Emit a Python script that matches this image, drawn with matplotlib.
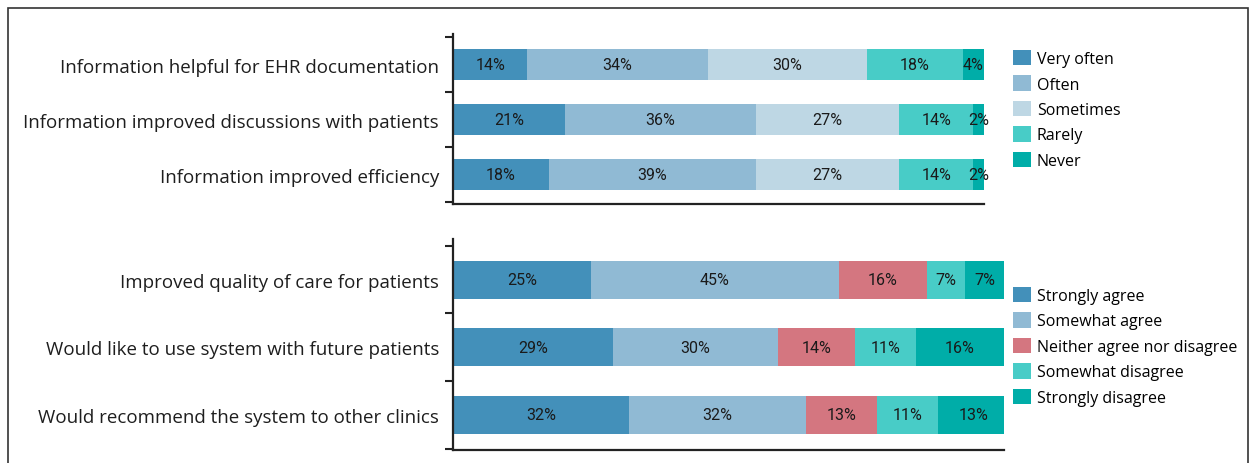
import numpy as np
import matplotlib
matplotlib.use("Agg")
import matplotlib.pyplot as plt
from matplotlib.patches import Rectangle

# --- data ---
freq_items = ["Information helpful for EHR documentation",
              "Information improved discussions with patients",
              "Information improved efficiency"]
freq_levels = ["Very often", "Often", "Sometimes", "Rarely", "Never"]
freq_values = [[14, 34, 30, 18, 4],
               [21, 36, 27, 14, 2],
               [18, 39, 27, 14, 2]]

agree_items = ["Improved quality of care for patients",
               "Would like to use system with future patients",
               "Would recommend the system to other clinics"]
agree_levels = ["Strongly agree", "Somewhat agree", "Neither agree nor disagree",
                "Somewhat disagree", "Strongly disagree"]
agree_values = [[25, 45, 16, 7, 7],
                [29, 30, 14, 11, 16],
                [32, 32, 13, 11, 13]]

freq_colors = ["#4390ba", "#90bad4", "#bed7e4", "#48ccc7", "#00ada8"]
agree_colors = ["#4390ba", "#90bad4", "#d47680", "#48ccc7", "#00ada8"]

plt.rcParams["font.family"] = ["Open Sans", "DejaVu Sans"]

W, H = 1254, 464
fig = plt.figure(figsize=(W / 100, H / 100), dpi=100)


def px_axes(left, top, right, bottom):
    return fig.add_axes([left / W, 1 - bottom / H, (right - left) / W, (bottom - top) / H])


def stacked(ax, items, values, colors, levels, ylim):
    vals = np.array(values, dtype=float)
    y = np.arange(len(items))
    left = np.zeros(len(items))
    for j in range(vals.shape[1]):
        ax.barh(y, vals[:, j], left=left, height=0.56, color=colors[j],
                label=levels[j], edgecolor="none")
        for i in range(len(items)):
            v = vals[i, j]
            ax.text(left[i] + v / 2, y[i], f"{int(v)}%", ha="center", va="center",
                    fontsize=11.5, color="#1a1a1a", family=["Roboto", "DejaVu Sans"])
        left += vals[:, j]
    ax.set_xlim(0, 100)
    ax.set_ylim(*ylim)
    ax.set_yticks(y)
    ax.set_yticklabels(items, fontsize=13.5, color="#1e1e1e")
    ax.tick_params(axis="y", which="major", length=0, pad=10)
    ax.set_yticks(np.arange(len(items) + 1) - 0.5, minor=True)
    ax.tick_params(axis="y", which="minor", length=6, width=1.5, color="#222222")
    ax.set_xticks([])
    for s in ["top", "right"]:
        ax.spines[s].set_visible(False)
    for s in ["left", "bottom"]:
        ax.spines[s].set_linewidth(1.6)
        ax.spines[s].set_color("#222222")


def add_legend(ax, top_px):
    ax.legend(loc="upper left", bbox_to_anchor=(1013 / W, 1 - top_px / H),
              bbox_transform=fig.transFigure, frameon=False, fontsize=11.5,
              handlelength=1.1, handleheight=1.1, handletextpad=0.4,
              labelspacing=0.52, borderpad=0, borderaxespad=0)


ax1 = px_axes(453, 35, 984, 205)
stacked(ax1, freq_items, freq_values, freq_colors, freq_levels, (2.53, -0.56))
add_legend(ax1, 51)

ax2 = px_axes(453, 240, 1004, 451)
stacked(ax2, agree_items, agree_values, agree_colors, agree_levels, (2.52, -0.6))
add_legend(ax2, 288)

# outer frame
fig.patches.append(Rectangle((8 / W, -0.05), 1240 / W, 1.05 - 9 / H,
                             transform=fig.transFigure, fill=False,
                             edgecolor="#333333", linewidth=1.2))

fig.savefig("out.png", dpi=100)
